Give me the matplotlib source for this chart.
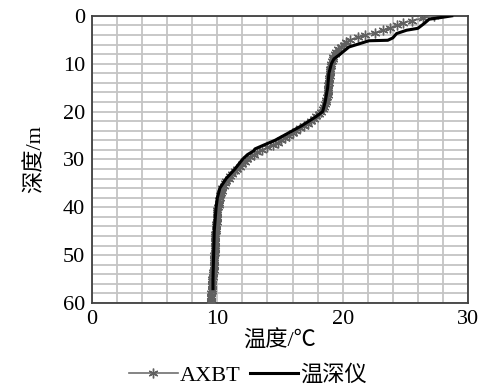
import matplotlib
matplotlib.use('Agg')
import matplotlib.pyplot as plt
import numpy as np

plt.rcParams['font.family'] = ['Liberation Serif', 'Noto Sans CJK SC', 'DejaVu Sans']

# AXBT profile, sampled every 0.5 m
axbt_depth = np.arange(0, 60.5, 0.5)
axbt_temp = [
    27.3, 26.4, 25.5, 24.8, 24.3, 23.8, 23.2, 22.6, 21.8, 21.2,
    20.6, 20.3, 20.1, 19.9, 19.6, 19.45, 19.35, 19.25, 19.2, 19.15,
    19.1, 19.05, 19.0, 19.0, 18.95, 18.95, 18.9, 18.9, 18.9, 18.85,
    18.85, 18.8, 18.8, 18.8, 18.75, 18.7, 18.7, 18.6, 18.5, 18.4,
    18.3, 18.1, 17.9, 17.7, 17.5, 17.2, 16.9, 16.6, 16.3, 16.0,
    15.7, 15.4, 15.1, 14.8, 14.4, 14.0, 13.6, 13.2, 12.9, 12.6,
    12.4, 12.2, 12.0, 11.8, 11.6, 11.4, 11.2, 11.0, 10.9, 10.7,
    10.6, 10.5, 10.4, 10.35, 10.3, 10.25, 10.2, 10.15, 10.1, 10.1,
    10.05, 10.0, 10.0, 10.0, 9.95, 9.95, 9.95, 9.9, 9.9, 9.9,
    9.9, 9.85, 9.85, 9.85, 9.85, 9.8, 9.8, 9.8, 9.8, 9.8,
    9.75, 9.75, 9.75, 9.7, 9.7, 9.7, 9.7, 9.65, 9.65, 9.65,
    9.6, 9.6, 9.6, 9.55, 9.55, 9.55, 9.5, 9.5, 9.5, 9.5,
    9.5,
]

# CTD (温深仪) profile
ctd_depth = [0, 0.4, 0.7, 1.6, 2.6, 3.0, 3.7, 4.6, 5.1, 5.2, 6.5, 8.0, 9.0,
             10, 12, 15, 18, 20, 21, 22, 23, 24, 25, 26, 27, 27.8, 28.2,
             29, 30, 32, 34, 36, 38, 40, 45, 50, 55, 57]
ctd_temp = [28.7, 27.7, 26.9, 26.5, 26.0, 25.1, 24.3, 24.0, 23.6, 22.1, 20.5,
            19.8, 19.3, 19.1, 18.9, 18.8, 18.6, 18.4, 17.9, 17.3, 16.7, 16.0,
            15.3, 14.6, 13.7, 13.0, 12.9, 12.4, 12.0, 11.4, 10.7, 10.2, 10.0,
            9.9, 9.75, 9.7, 9.65, 9.65]

fig = plt.figure(figsize=(4.87, 3.87), dpi=100)
ax = fig.add_axes([0.189, 0.217, 0.772, 0.742])

ax.plot(axbt_temp, axbt_depth, color='#707070', lw=1.2, marker=(6, 2, 0),
        ms=7, mew=1.0, mec='#606060', label='AXBT', zorder=3)
ax.plot(ctd_temp, ctd_depth, color='black', lw=2.2, label='温深仪', zorder=4)

ax.set_xlim(0, 30)
ax.set_ylim(60, 0)
ax.set_xticks([0, 10, 20, 30])
ax.set_yticks([0, 10, 20, 30, 40, 50, 60])
ax.set_xticks(np.arange(0, 31, 2), minor=True)
ax.set_yticks(np.arange(0, 61, 2), minor=True)
ax.grid(which='both', color='#c4c4c4', lw=1.3)
ax.set_axisbelow(True)
ax.tick_params(which='both', length=0, labelsize=16, pad=5)
for s in ax.spines.values():
    s.set_color('#404040')
    s.set_linewidth(1.3)

ax.set_xlabel('温度/℃', fontsize=16, labelpad=1)
ax.set_ylabel('深度/m', fontsize=16, labelpad=13)

ax.legend(loc='upper center', bbox_to_anchor=(0.415, -0.185), ncol=2, frameon=False,
          fontsize=16, handlelength=2.2, columnspacing=0.4, handletextpad=0.1,
          borderaxespad=0)

fig.savefig('out.png', dpi=100)
